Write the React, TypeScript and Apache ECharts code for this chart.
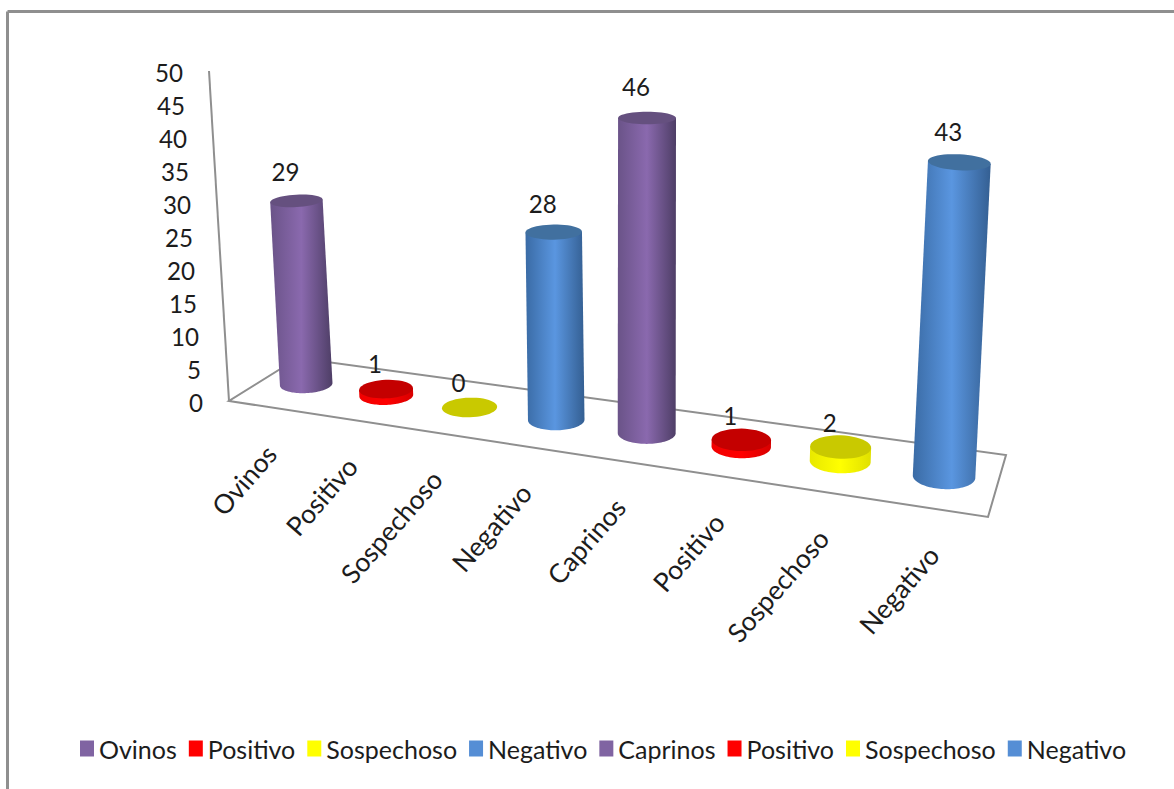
import React, { useEffect, useRef } from "react";
import * as echarts from "echarts";

const categories = ["Ovinos", "Positivo", "Sospechoso", "Negativo", "Caprinos", "Positivo", "Sospechoso", "Negativo"];
const values = [29, 1, 0, 28, 46, 1, 2, 43];
const valueTicks = [0, 5, 10, 15, 20, 25, 30, 35, 40, 45, 50];
// Series names must stay unique for the legend; the second group carries a trailing space.
const seriesNames = ["Ovinos", "Positivo", "Sospechoso", "Negativo", "Caprinos", "Positivo ", "Sospechoso ", "Negativo "];

type Palette = { legend: string; edgeL: string; mid: string; edgeR: string; top: string };
const purple: Palette = { legend: "#8064A2", edgeL: "#6A5388", mid: "#8A69AE", edgeR: "#4E3E66", top: "#65507F" };
const red: Palette = { legend: "#FF0000", edgeL: "#F00000", mid: "#FF0000", edgeR: "#D80000", top: "#C40000" };
const yellow: Palette = { legend: "#FFFF00", edgeL: "#E8E800", mid: "#FFFF00", edgeR: "#E0E000", top: "#C9C900" };
const blue: Palette = { legend: "#558ED5", edgeL: "#3A6BA5", mid: "#5A96E0", edgeR: "#345F92", top: "#41709F" };
const palettes = [purple, red, yellow, blue, purple, red, yellow, blue];

const FONT = "Lato";
const INK = "#1c1c1c";
const LINE = "#8f8f8f";

// Plot box used by the hidden cartesian axes; the front edge of the floor spans its width.
const BOX = { left: 229, top: 71, width: 759, height: 330 };
const MAX_VALUE = 50;

// Floor quad in screen space: front-left, front-right, back-right, back-left.
const FLOOR = { fl: [229, 401], fr: [988, 517], br: [1006, 455], bl: [298, 358] };
const WALL_TOP_X = 209;
const DEPTH = 0.5;
const LEAN_CENTER = 640;
const LEAN = 0.00016;

function floorHomography() {
  const [x0, y0] = FLOOR.fl;
  const [x1, y1] = FLOOR.fr;
  const [x2, y2] = FLOOR.br;
  const [x3, y3] = FLOOR.bl;
  const dx1 = x1 - x2, dx2 = x3 - x2, sx = x0 - x1 + x2 - x3;
  const dy1 = y1 - y2, dy2 = y3 - y2, sy = y0 - y1 + y2 - y3;
  const det = dx1 * dy2 - dx2 * dy1;
  const g = (sx * dy2 - dx2 * sy) / det;
  const h = (dx1 * sy - sx * dy1) / det;
  const a = x1 - x0 + g * x1, b = x3 - x0 + h * x3;
  const d = y1 - y0 + g * y1, e = y3 - y0 + h * y3;
  return (u: number, w: number): [number, number] => {
    const q = g * u + h * w + 1;
    return [(a * u + b * w + x0) / q, (d * u + e * w + y0) / q];
  };
}
const onFloor = floorHomography();

const gridToU = (gx: number) => (gx - BOX.left) / BOX.width;
const gridToValue = (gy: number) => ((BOX.top + BOX.height - gy) / BOX.height) * MAX_VALUE;
const pxPerUnit = (x: number) => 6.32 + 0.00155 * (x - 305);
const radiusX = (x: number) => 26.3 + 0.0078 * (x - 305);
const radiusY = (x: number, y: number) => 5 + 0.0145 * (y - 117) + 0.0035 * (x - 296);
// Softens the floor's foreshortening along the row of cylinders.
const rowShift = (u: number) => 2.5 + 18 * u * (1 - u) - 2 * u;

function ellipsePoint(cx: number, cy: number, rx: number, ry: number, t: number): number[] {
  const s = (cx - LEAN_CENTER) * LEAN;
  const n = Math.hypot(1, s);
  const ax = 1 / n, ay = s / n;
  const c = Math.cos(t) * rx, m = Math.sin(t) * ry;
  return [cx + c * ax - m * ay, cy + c * ay + m * ax];
}

function ellipsePoints(cx: number, cy: number, rx: number, ry: number, from = 0, to = Math.PI * 2, steps = 48) {
  const pts: number[][] = [];
  for (let k = 0; k <= steps; k++) pts.push(ellipsePoint(cx, cy, rx, ry, from + ((to - from) * k) / steps));
  return pts;
}

function cylinderRenderer(palette: Palette) {
  return (_params: any, api: any) => {
    const v0 = api.value(0);
    const v1 = api.value(1);
    const [gx, gy] = api.coord([v0, v1]);
    const u = gridToU(gx);
    const [fx, by] = onFloor(u, DEPTH);
    const bx = fx + rowShift(u);
    const h = gridToValue(gy) * pxPerUnit(bx);
    const tx = bx + (bx - LEAN_CENTER) * LEAN * h;
    const ty = by - h;
    const rxB = radiusX(bx), ryB = radiusY(bx, by);
    const rxT = radiusX(tx), ryT = radiusY(tx, ty);
    const children: any[] = [];
    if (h > 0) {
      const body = [
        ellipsePoint(tx, ty, rxT, ryT, Math.PI),
        ellipsePoint(tx, ty, rxT, ryT, 0),
        ...ellipsePoints(bx, by, rxB, ryB, 0, Math.PI),
      ];
      children.push({
        type: "polygon",
        shape: { points: body },
        style: {
          fill: new echarts.graphic.LinearGradient(0, 0, 1, 0, [
            { offset: 0, color: palette.edgeL },
            { offset: 0.5, color: palette.mid },
            { offset: 1, color: palette.edgeR },
          ]),
        },
      });
    }
    children.push({
      type: "polygon",
      shape: { points: ellipsePoints(tx, ty, rxT, ryT) },
      style: { fill: palette.top },
    });
    children.push({
      type: "text",
      x: tx - 11,
      y: ty - (25.5 + (447 - ty) * 0.02),
      scaleX: 0.93,
      style: { text: String(v1), fontFamily: FONT, fontSize: 26, fill: INK, align: "center", verticalAlign: "middle" },
    });
    return { type: "group", children };
  };
}

function floorRenderer(_params: any, api: any) {
  const [, gy0] = api.coord([0, 0]);
  const [, gyTop] = api.coord([0, MAX_VALUE]);
  const line = { stroke: LINE, lineWidth: 2, fill: "none" };
  return {
    type: "group",
    children: [
      {
        type: "polygon",
        shape: { points: [FLOOR.fl, FLOOR.fr, FLOOR.br, FLOOR.bl] },
        style: line,
      },
      {
        type: "line",
        shape: { x1: BOX.left, y1: gy0, x2: WALL_TOP_X, y2: gyTop },
        style: { stroke: LINE, lineWidth: 2 },
      },
    ],
  };
}

function tickLabelRenderer(_params: any, api: any) {
  const v = api.value(1);
  const [, gy] = api.coord([0, v]);
  const wallX = BOX.left + (WALL_TOP_X - BOX.left) * (v / MAX_VALUE);
  return {
    type: "text",
    x: wallX - 26,
    y: gy + 1,
    scaleX: 0.93,
    style: { text: String(v), fontFamily: FONT, fontSize: 26, fill: INK, align: "right", verticalAlign: "middle" },
  };
}

function categoryLabelRenderer(_params: any, api: any) {
  const i = api.value(0);
  const [gx] = api.coord([i, 0]);
  const [fx, fy] = onFloor(gridToU(gx), 0);
  return {
    type: "text",
    x: fx + 3,
    y: fy + 42,
    rotation: (49 * Math.PI) / 180,
    style: { text: categories[i], fontFamily: FONT, fontSize: 26.5, fill: INK, align: "right", verticalAlign: "middle" },
  };
}

export default function App() {
  const ref = useRef<HTMLDivElement>(null);
  useEffect(() => {
    const chart = echarts.init(ref.current!, undefined, { renderer: "svg" });
    const cylinderSeries = values.map((value, i) => ({
      type: "custom",
      name: seriesNames[i],
      coordinateSystem: "cartesian2d",
      clip: false,
      silent: true,
      itemStyle: { color: palettes[i].legend },
      encode: { x: 0, y: 1 },
      data: [[i, value]],
      renderItem: cylinderRenderer(palettes[i]),
      z: 3,
    }));
    chart.setOption({
      animation: false,
      backgroundColor: "#ffffff",
      grid: { left: BOX.left, top: BOX.top, width: BOX.width, height: BOX.height },
      xAxis: { type: "category", data: categories.map((_, i) => i), show: false },
      yAxis: { type: "value", min: 0, max: MAX_VALUE, interval: 5, show: false },
      legend: {
        data: seriesNames,
        left: 75,
        top: 731,
        icon: "rect",
        itemWidth: 14,
        itemHeight: 16,
        itemGap: 12,
        selectedMode: false,
        formatter: (name: string) => name.trim(),
        textStyle: { fontFamily: FONT, fontSize: 25, color: INK },
      },
      graphic: [
        { type: "line", shape: { x1: 7.5, y1: 11.5, x2: 1174, y2: 11.5 }, style: { stroke: LINE, lineWidth: 3 } },
        { type: "line", shape: { x1: 7.5, y1: 11.5, x2: 7.5, y2: 789 }, style: { stroke: LINE, lineWidth: 3 } },
      ],
      series: [
        { type: "custom", name: "Plano", coordinateSystem: "cartesian2d", clip: false, silent: true, data: [[0, 0]], renderItem: floorRenderer, z: 1 },
        { type: "custom", name: "Escala", coordinateSystem: "cartesian2d", clip: false, silent: true, data: valueTicks.map((v) => [0, v]), renderItem: tickLabelRenderer, z: 2 },
        { type: "custom", name: "Categorías", coordinateSystem: "cartesian2d", clip: false, silent: true, data: categories.map((_, i) => [i, 0]), renderItem: categoryLabelRenderer, z: 2 },
        ...cylinderSeries,
      ],
    });
    return () => chart.dispose();
  }, []);
  return <div ref={ref} style={{ position: "absolute", left: 0, top: 0, width: 1174, height: 789 }} />;
}
